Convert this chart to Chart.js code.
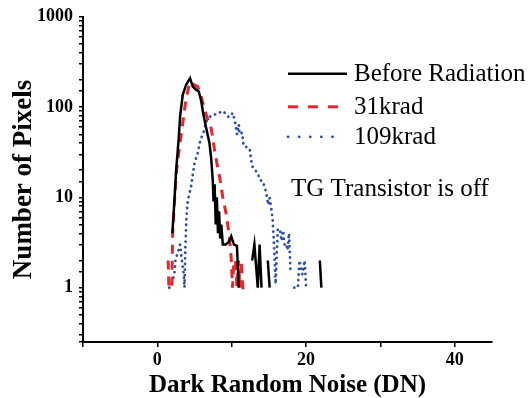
<!DOCTYPE html>
<html>
<head>
<meta charset="utf-8">
<script src="https://cdn.jsdelivr.net/npm/chart.js@4"></script>
<style>
  body { margin: 0; background: #fff; }
</style>
</head>
<body>
<canvas id="myChart" width="528" height="398"></canvas>
<script>
// Dark random noise histograms (null = empty bin, not drawn on log axis)
const beforeX = [2.02, 2.29, 2.52, 2.87, 3.06, 3.41, 3.87, 4.4, 4.76, 5.2, 5.57, 5.9, 6.2, 6.56, 7.0, 7.24, 7.46, 7.55, 7.7, 7.85, 8.0, 8.15, 8.3, 8.45, 8.6, 8.8, 9.2, 9.6, 9.93, 10.3, 10.7, 10.95, 11.5, 12.75, 13.05, 13.5, 13.75, 14.0, 14.4, 14.85, 15.1, 18, 21.85, 22.05];
const beforeY = [4, 9.1, 19.5, 45, 79, 137, 177, 209, 169, 156, 149, 116, 82, 59, 40, 27, 15, 9, 14, 5, 10, 4, 7, 3.5, 5, 3, 3, 3.2, 3.7, 3, 2.9, 1, null, 2, 3, 1, 3, 1, null, 2, 1, null, 2, 1];

const k31X = [1.45, 1.55, 1.95, 2.05, 2.3, 2.55, 2.96, 3.32, 3.87, 4.2, 4.54, 5.0, 5.43, 5.88, 6.56, 7.24, 7.68, 8.0, 8.36, 8.8, 9.26, 9.7, 9.93, 10.1, 10.3, 10.5, 10.7, 10.9, 11.1, 11.3, 11.5, 11.8];
const k31Y = [2, 1, 1, 3.9, 9, 19, 35, 58, 126, 165, 190, 175, 169, 131, 82, 58, 34, 24, 17, 10, 6.5, 3.6, 2.1, 1, 2, 2, 1, 2, 1, 2, 1, 1];

const k109X = [1.6, 1.84, 2.29, 2.43, 3.06, 3.3, 3.55, 3.65, 3.75, 3.87, 3.95, 4.08, 4.54, 4.76, 4.99, 5.43, 5.75, 6.33, 6.56, 7.24, 8.13, 8.72, 9.26, 9.6, 10.15, 10.5, 10.7, 10.96, 11.05, 11.4, 11.6, 12.4, 12.6, 12.85, 13.5, 13.75, 14.2, 14.65, 14.9, 15.1, 15.3, 15.5, 15.65, 15.8, 15.9, 16.05, 16.2, 16.45, 16.7, 16.9, 17.1, 17.3, 17.5, 17.7, 17.8, 17.9, 18.1, 18.4, 18.9, 19.1, 19.5, 19.8, 20.0];
const k109Y = [1, 1.04, 1.4, 2, 3, 2, 1.4, 1, 2.5, 5, 6.7, 9.1, 13.3, 17.9, 24, 31, 42, 56, 69, 81, 84, 91, 84, 77, 86, 65, 50, 64, 50, 52, 37, 35, 26, 21, 18.7, 15.7, 15, 11.2, 8.3, 9.9, 7.7, 5.7, 3.4, 1.8, 1.1, 2.3, 4.4, 4.5, 3.3, 4.3, 3.0, 3.1, 2.6, 4.0, 2.5, 1.5, null, 1, 1, 2, 1.4, 2, 1];

const seriesNames = ['Before Radiation', '31krad', '109krad'];
const xTickLabels = [0, 20, 40];
const yTickLabels = [1, 10, 100, 1000];
const note = 'TG Transistor is off';

const pts = (xs, ys) => xs.map((x, i) => ({ x: x, y: ys[i] }));
const serif = 'Liberation Serif';

// legend drawn inside the plot, plus the note
const insideLegend = {
    id: 'insideLegend',
    afterDraw(chart) {
        const ctx = chart.ctx;
        const area = chart.chartArea;
        const x1 = area.left + 205, x2 = area.left + 264;
        const rows = [area.top + 57, area.top + 90, area.top + 120];
        ctx.save();
        ctx.font = '25px "' + serif + '"';
        ctx.textBaseline = 'middle';
        ctx.fillStyle = '#000';
        chart.data.datasets.forEach((ds, i) => {
            ctx.strokeStyle = ds.borderColor;
            ctx.lineWidth = ds.borderWidth;
            ctx.lineCap = ds.borderCapStyle || 'butt';
            ctx.setLineDash(i === 2 ? [0.1, 11] : (i === 1 ? [10, 10] : []));
            ctx.beginPath();
            ctx.moveTo(x1, rows[i]);
            ctx.lineTo(i === 0 ? x2 : x2 - 6, rows[i]);
            ctx.stroke();
            ctx.setLineDash([]);
            ctx.fillText(ds.label, x2 + 7, rows[i] + 1);
        });
        ctx.fillText(note, area.left + 208, area.top + 173);
        ctx.restore();
    }
};

const ctx = document.getElementById('myChart').getContext('2d');
const myChart = new Chart(ctx, {
    type: 'line',
    data: {
        datasets: [{
            label: seriesNames[0],
            data: pts(beforeX, beforeY),
            borderColor: '#000000',
            borderWidth: 2.5,
        }, {
            label: seriesNames[1],
            data: pts(k31X, k31Y),
            borderColor: '#e8262d',
            borderWidth: 3,
            borderDash: [9, 7],
        }, {
            label: seriesNames[2],
            data: pts(k109X, k109Y),
            borderColor: '#2c4fa8',
            borderWidth: 2.8,
            borderDash: [0.1, 5.5],
            borderCapStyle: 'round',
        }]
    },
    options: {
        responsive: false,
        animation: false,
        devicePixelRatio: 1,
        spanGaps: false,
        elements: { point: { radius: 0 }, line: { tension: 0 } },
        layout: { padding: { top: 15, right: 36, left: 0, bottom: 0 } },
        plugins: { legend: { display: false }, tooltip: { enabled: false } },
        scales: {
            x: {
                type: 'linear',
                min: -10,
                max: 45,
                border: { display: true, color: '#000', width: 2 },
                grid: { drawOnChartArea: false, color: '#000', tickColor: '#000', tickLength: 5, lineWidth: 1.5 },
                ticks: {
                    stepSize: 10,
                    color: '#000',
                    padding: 3,
                    maxRotation: 0,
                    font: { family: serif, size: 18, weight: 'bold' },
                    callback: v => xTickLabels.includes(v) ? String(v) : ''
                },
                afterBuildTicks: s => { s.ticks = s.ticks.filter(t => t.value <= 40); },
                afterFit: s => { s.height = 56; },
                title: {
                    display: true,
                    text: 'Dark Random Noise (DN)',
                    color: '#000',
                    font: { family: serif, size: 25, weight: 'bold', lineHeight: 1 },
                    padding: { top: 0, bottom: 0 }
                }
            },
            y: {
                type: 'logarithmic',
                min: 0.25,
                max: 1000,
                border: { display: true, color: '#000', width: 2 },
                grid: { drawOnChartArea: false, color: '#000', tickColor: '#000', tickLength: 4, lineWidth: 1.5 },
                ticks: {
                    autoSkip: false,
                    color: '#000',
                    padding: 6,
                    font: { family: serif, size: 18, weight: 'bold' },
                    callback: v => yTickLabels.includes(v) ? String(v) : ''
                },
                afterFit: s => { s.width = 83; },
                title: {
                    display: true,
                    text: 'Number of Pixels',
                    color: '#000',
                    font: { family: serif, size: 27, weight: 'bold', lineHeight: 1.2 },
                    padding: { top: 8, bottom: 0 }
                }
            }
        }
    },
    plugins: [insideLegend]
});
</script>
</body>
</html>
